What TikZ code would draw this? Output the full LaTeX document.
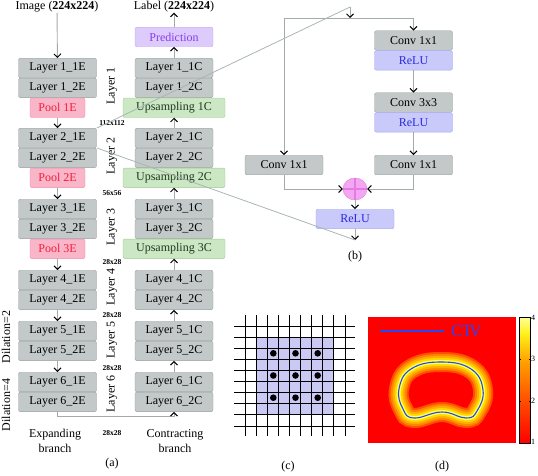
\documentclass[tikz,border=0pt]{standalone}
\usepackage{fontspec}
\setmainfont{Liberation Serif}
\usetikzlibrary{positioning,arrows.meta,shapes.geometric}

\definecolor{laygray}{HTML}{C3C9C8}
\definecolor{layline}{HTML}{979F9E}
\definecolor{poolfill}{HTML}{F9B6C9}
\definecolor{poolline}{HTML}{F08CAA}
\definecolor{pooltext}{HTML}{F51E3C}
\definecolor{upfill}{HTML}{CBE7C4}
\definecolor{upline}{HTML}{9CCB93}
\definecolor{uptext}{HTML}{1E3A1E}
\definecolor{predfill}{HTML}{DDCBFB}
\definecolor{predline}{HTML}{C3A6F3}
\definecolor{predtext}{HTML}{8A3CF0}
\definecolor{relufill}{HTML}{C9C9FA}
\definecolor{reluline}{HTML}{A3A3F2}
\definecolor{relutext}{HTML}{2A2AE0}
\definecolor{arrgray}{HTML}{A3ABAA}
\definecolor{zoomgray}{HTML}{A9B5B5}
\definecolor{gridfill}{HTML}{C9C9F3}
\definecolor{ctvblue}{HTML}{2448F5}
\definecolor{plusfill}{HTML}{F4A6F2}
\definecolor{plusline}{HTML}{E27CE0}
\definecolor{bandA}{HTML}{FF5000}
\definecolor{bandB}{HTML}{FF8400}
\definecolor{bandC}{HTML}{FFAE00}
\definecolor{bandD}{HTML}{FFD800}
\definecolor{bandE}{HTML}{FFFF55}
\definecolor{barA}{rgb}{1,0,0}
\definecolor{barB}{rgb}{1,0.3,0}
\definecolor{barC}{rgb}{1,0.65,0}
\definecolor{barD}{rgb}{1,0.95,0.1}
\definecolor{barE}{rgb}{1,1,0.6}

\tikzstyle{layer} = [draw=layline,fill=laygray,rounded corners=2,minimum width=78,minimum height=19.5,inner sep=0,font=\fontsize{12}{14}\selectfont]
\tikzstyle{pool} = [layer,draw=poolline,fill=poolfill,text=pooltext,minimum width=55]
\tikzstyle{upsamp} = [layer,draw=upline,fill=upfill,text=uptext,minimum width=102]
\tikzstyle{pred} = [layer,draw=predline,fill=predfill,text=predtext]
\tikzstyle{relu} = [layer,draw=reluline,fill=relufill,text=relutext]
\tikzstyle{arr} = [draw=arrgray,line width=0.9,-{Straight Barb[length=3.5pt,width=7pt,line width=1pt,color=black]}]
\tikzstyle{dimlabel} = [font=\fontsize{7.5}{8}\selectfont\bfseries,inner sep=0]
\tikzstyle{rot} = [rotate=90,inner sep=0,font=\fontsize{12}{14}\selectfont]
\tikzstyle{txt} = [inner sep=0,align=center,font=\fontsize{12}{15}\selectfont]
\tikzstyle{zoomline} = [draw=zoomgray,line width=0.8]
\tikzstyle{tick} = [anchor=west,inner sep=1,font=\fontsize{8}{8}\selectfont]

\def\bean{plot[smooth cycle,tension=0.75] coordinates {(399,389) (411,369) (441,362) (471,369) (483,390) (477,411) (466,418) (442,412) (414,418) (403,409)}}

\begin{document}
\begin{tikzpicture}[x=1pt,y=-1pt]
	\useasboundingbox (0,0) rectangle (538,476);
	% (a) expanding branch
	\node (img) [txt] at (57,7) {Image (\textbf{224x224})};
	\node (l11e) [layer] at (57.5,68) {Layer 1\_1E};
	\node (l12e) [layer,below=0pt of l11e] {Layer 1\_2E};
	\node (pool1) [pool,below=0pt of l12e] {Pool 1E};
	\node (l21e) [layer] at (57.5,138) {Layer 2\_1E};
	\node (l22e) [layer,below=0pt of l21e] {Layer 2\_2E};
	\node (pool2) [pool,below=0pt of l22e] {Pool 2E};
	\node (l31e) [layer] at (57.5,209) {Layer 3\_1E};
	\node (l32e) [layer,below=0pt of l31e] {Layer 3\_2E};
	\node (pool3) [pool,below=0pt of l32e] {Pool 3E};
	\node (l41e) [layer] at (57.5,280) {Layer 4\_1E};
	\node (l42e) [layer,below=0pt of l41e] {Layer 4\_2E};
	\node (l51e) [layer] at (57.5,331) {Layer 5\_1E};
	\node (l52e) [layer,below=0pt of l51e] {Layer 5\_2E};
	\node (l61e) [layer] at (57.5,382) {Layer 6\_1E};
	\node (l62e) [layer,below=0pt of l61e] {Layer 6\_2E};
	% (a) contracting branch
	\node (lbl) [txt] at (174,7) {Label (\textbf{224x224})};
	\node (pred) [pred] at (174,37) {Prediction};
	\node (l11c) [layer] at (174,68) {Layer 1\_1C};
	\node (l12c) [layer,below=0pt of l11c] {Layer 1\_2C};
	\node (up1) [upsamp,below=0pt of l12c] {Upsampling 1C};
	\node (l21c) [layer] at (174,138) {Layer 2\_1C};
	\node (l22c) [layer,below=0pt of l21c] {Layer 2\_2C};
	\node (up2) [upsamp,below=0pt of l22c] {Upsampling 2C};
	\node (l31c) [layer] at (174,209) {Layer 3\_1C};
	\node (l32c) [layer,below=0pt of l31c] {Layer 3\_2C};
	\node (up3) [upsamp,below=0pt of l32c] {Upsampling 3C};
	\node (l41c) [layer] at (174,280) {Layer 4\_1C};
	\node (l42c) [layer,below=0pt of l41c] {Layer 4\_2C};
	\node (l51c) [layer] at (174,331) {Layer 5\_1C};
	\node (l52c) [layer,below=0pt of l51c] {Layer 5\_2C};
	\node (l61c) [layer] at (174,382) {Layer 6\_1C};
	\node (l62c) [layer,below=0pt of l61c] {Layer 6\_2C};
	% labels between the branches
	\node (lay1) [rot] at (112,86) {Layer 1};
	\node (lay2) [rot] at (112,156) {Layer 2};
	\node (lay3) [rot] at (112,227) {Layer 3};
	\node (lay4) [rot] at (112,287) {Layer 4};
	\node (lay5) [rot] at (112,340) {Layer 5};
	\node (lay6) [rot] at (112,394) {Layer 6};
	\node (dil2) [rot] at (6,337) {Dilation=2};
	\node (dil4) [rot] at (6,405) {Dilation=4};
	\node (d112) [dimlabel] at (112,123) {112x112};
	\node (d56) [dimlabel] at (112,193) {56x56};
	\node (d28a) [dimlabel] at (112,262) {28x28};
	\node (d28b) [dimlabel] at (112,315) {28x28};
	\node (d28c) [dimlabel] at (112,368) {28x28};
	\node (d28d) [dimlabel] at (112,433) {28x28};
	\node (expand) [txt] at (55,441) {Expanding\\branch};
	\node (contract) [txt] at (175,441) {Contracting\\branch};
	\node (capa) [txt] at (112,464) {(a)};
	\draw [arr] (img) -- (l11e);
	\draw [arr] (pool1) -- (l21e);
	\draw [arr] (pool2) -- (l31e);
	\draw [arr] (pool3) -- (l41e);
	\draw [arr] (l42e) -- (l51e);
	\draw [arr] (l52e) -- (l61e);
	\draw [arr] (l62e.south) -- ++(0,5) -| (l62c.south);
	\draw [arr] (l61c) -- (l52c);
	\draw [arr] (l51c) -- (l42c);
	\draw [arr] (l41c) -- (up3);
	\draw [arr] (l31c) -- (up2);
	\draw [arr] (l21c) -- (up1);
	\draw [arr] (l11c) -- (pred);
	\draw [arr] (pred) -- (lbl);
	% (b) residual block
	\coordinate (bin) at (350,7);
	\coordinate (split) at (350,18);
	\coordinate (bout) at (355,240);
	\node (conva) [layer] at (413.5,40.5) {Conv 1x1};
	\node (relua) [relu,below=0pt of conva] {ReLU};
	\node (convb) [layer] at (413.5,102.5) {Conv 3x3};
	\node (relub) [relu,below=0pt of convb] {ReLU};
	\node (convc) [layer] at (413.5,165) {Conv 1x1};
	\node (convd) [layer] at (284,165) {Conv 1x1};
	\node (plus) [ellipse,draw=plusline,fill=plusfill,minimum width=24,minimum height=22,inner sep=0] at (355,189) {};
	\node (reluc) [relu] at (355,219) {ReLU};
	\node (capb) [txt] at (355,257) {(b)};
	\draw [plusline,line width=1.4] (plus.north) -- (plus.south) (plus.west) -- (plus.east);
	\draw [arr] (bin) -- (split);
	\draw [arr] (split) -| (conva);
	\draw [arr] (split) -| (convd);
	\draw [arr] (relua) -- (convb);
	\draw [arr] (relub) -- (convc);
	\draw [arr] (convd) |- (plus);
	\draw [arr] (convc) |- (plus);
	\draw [arr] (plus) -- (reluc);
	\draw [arr] (reluc) -- (bout);
	\draw [zoomline] (l21e.north east) -- (bin);
	\draw [zoomline] (l21e.south east) -- (bout);
	% (c) dilated kernel on the grid
	\fill [gridfill] (256.1,337.1) rectangle (333.8,414.8);
	\foreach \i in {0,...,9} {
		\draw [line width=0.8] (245+11.1*\i,315) -- (245+11.1*\i,436);
		\draw [line width=0.8] (234,326+11.1*\i) -- (355,326+11.1*\i);
	}
	\foreach \i in {0,1,2}
		\foreach \j in {0,1,2}
			\fill (273.3+22.2*\i,353.3+22.2*\j) circle (3.3);
	\node (capc) [txt] at (288,467) {(c)};
	% (d) weight map round the CTV
	\fill [red] (368,317) rectangle (516,443);
	\foreach \w/\c in {20/bandA,16/bandB,12/bandC,8/bandD,4/bandE}
		\draw [line width=\w,\c] \bean;
	\draw [ctvblue,line width=1.1] \bean;
	\draw [ctvblue,line width=1.4] (380,331) -- (444,331);
	\node (ctv) [anchor=west,inner sep=0,text=ctvblue,font=\fontsize{16.5}{18}\selectfont] at (451,331) {CT\kern-2.6ptV};
	\shade [bottom color=barA,top color=barB] (519,443) rectangle (530,401);
	\shade [bottom color=barB,top color=barC] (519,401.5) rectangle (530,359);
	\shade [bottom color=barC,top color=barD] (519,359.5) rectangle (530,333);
	\shade [bottom color=barD,top color=barE] (519,333.5) rectangle (530,317);
	\draw [line width=0.7] (519,317) rectangle (530,443);
	\foreach \k in {359,401}
		\draw [line width=0.5] (519,\k) -- ++(1.5,0) (530,\k) -- ++(-1.5,0);
	\node (t4) [tick] at (530,318) {4};
	\node (t3) [tick] at (530,359) {3};
	\node (t2) [tick] at (530,401) {2};
	\node (t1) [tick] at (530,442) {1};
	\node (capd) [txt] at (442,467) {(d)};
\end{tikzpicture}
\end{document}
